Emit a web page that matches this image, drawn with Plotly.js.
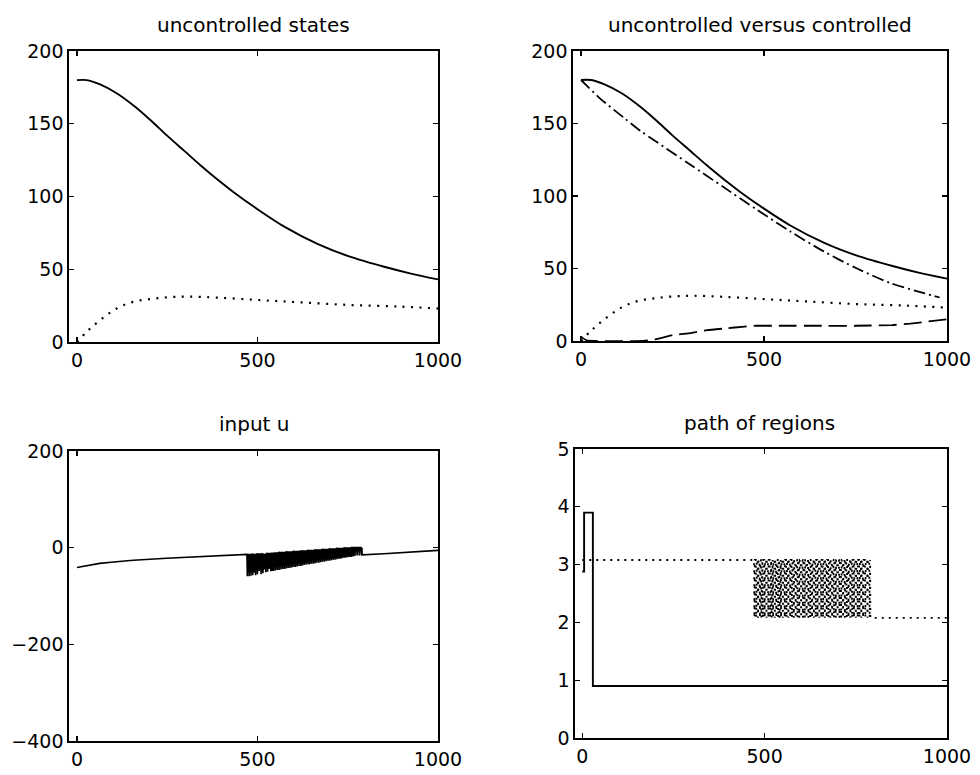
<!DOCTYPE html>
<html>
<head>
<meta charset="utf-8">
<script src="https://cdn.plot.ly/plotly-3.0.1.min.js"></script>
<style>html,body{margin:0;padding:0;background:#fff;}#chart{width:980px;height:775px;}</style>
</head>
<body>
<div id="chart"></div>
<script>
// ---- panel titles ----
const panelTitles = ["uncontrolled states", "uncontrolled versus controlled", "input u", "path of regions"];

// ---- uncontrolled states (top panels) ----
const state1X = [0, 27, 64, 110, 162, 208, 249, 299, 342, 390, 434, 500, 573, 666, 758, 851, 925, 1000];
const state1Y = [180, 180, 177, 171, 161.5, 151.5, 142, 131, 121.5, 111.5, 103, 91.3, 79.5, 67.5, 58.5, 51.7, 47, 43];
const state2X = [0, 27, 64, 110, 157, 203, 249, 305, 388, 500, 616, 758, 897, 1000];
const state2Y = [0, 7, 15, 23, 27.7, 29.5, 30.7, 31.2, 30.5, 28.9, 27.3, 25.4, 24.3, 23];

// ---- controlled states (top-right panel) ----
const ctrl1X = [0, 12, 53, 117, 162, 208, 299, 390, 481, 572, 663, 754, 845, 937, 980];
const ctrl1Y = [180, 177, 167, 154, 145, 137, 121.5, 106, 90.5, 75.5, 61.8, 50, 40, 33, 30];
const ctrl2X = [0, 15, 170, 200, 250, 300, 345, 400, 440, 480, 550, 650, 750, 850, 900, 950, 1000];
const ctrl2Y = [3, 0.5, 0, 1, 4, 5.5, 7.5, 8.8, 9.8, 10.5, 10.5, 10.5, 10.5, 11, 12, 13.5, 15];

// ---- input u (bottom-left panel) ----
const uPreX = [0, 26, 63, 109, 156, 248, 341, 433, 468];
const uPreY = [-41, -37, -32.5, -29, -26, -22, -18.5, -16, -14.5];
const uPostX = [790, 850, 900, 950, 1000];
const uPostY = [-15, -12.5, -10.5, -8, -5.5];
// switching instants (chattering) and the two values of u there
const burstX = [472,477,482,487,491,495,500,505,510,515,519,523,528,532,537,541,
  545,550,555,560,565,570,575,580,585,590,595,600,605,610,615,620,625,630,635,640,
  645,650,655,660,665,670,675,680,685,690,695,700,705,710,715,720,725,730,735,740,
  745,750,755,760,765,770,776,782,788];
const burstHi = [-14,-14,-14,-13.5,-13.5,-13.5,-13,-13,-13,-12.5,-12.5,-12.5,-12,-12,-12,-11.5,
  -11,-11,-11,-10,-10,-10,-10,-9,-9,-9,-9,-8,-8,-8,-8,-7,-7,-7,-7,-6,
  -6,-6,-6,-5,-5,-5,-5,-4,-4,-4,-4,-3,-3,-3,-3,-2,-2,-2,-2,-1,
  -1,-1,-1,0,0,0,0,0,0];
const burstLo = [-59,-59,-58,-57,-52,-57,-55,-48,-55,-53,-45,-51,-50,-44,-49,-48,
  -48,-47,-46,-46,-45,-44,-44,-43,-42,-42,-41,-40,-40,-39,-38,-38,-37,-36,-35,-35,
  -34,-33,-33,-32,-31,-31,-30,-29,-29,-28,-27,-27,-26,-25,-25,-24,-23,-23,-22,-21,
  -21,-20,-19,-19,-18,-17,-16,-16,-16];

// ---- path of regions (bottom-right panel) ----
const regionSolidX = [0, 5, 29, 1000];
const regionSolidY = [2.88, 3.9, 0.9, 0.9];
const regionDotLevels = [3.08, 2.08];   // region before / at switching, and after
const regionDotEnd = [790, 1000];

// ---------------- build traces ----------------
const halfW = 1.2;
const ux = uPreX.slice(), uy = uPreY.slice();
burstX.forEach((x, i) => {
  ux.push(x - halfW, x, x + halfW);
  uy.push(burstHi[i], burstLo[i], burstHi[i]);
});
uPostX.forEach((x, i) => { ux.push(x); uy.push(uPostY[i]); });

const rx = [0], ry = [regionDotLevels[0]];
burstX.forEach(x => {
  rx.push(x - halfW, x, x + halfW);
  ry.push(regionDotLevels[0], regionDotLevels[1], regionDotLevels[0]);
});
regionDotEnd.forEach(x => { rx.push(x); ry.push(regionDotLevels[1]); });

const K = '#000';
const solid = {color: K, width: 1.9, shape: 'spline', smoothing: 0.8};
const dotted = {color: K, width: 2.2, dash: '2px,6.5px', shape: 'spline'};

const data = [
  {x: state1X, y: state1Y, xaxis: 'x', yaxis: 'y', mode: 'lines', line: solid},
  {x: state2X, y: state2Y, xaxis: 'x', yaxis: 'y', mode: 'lines', line: dotted},
  {x: state1X, y: state1Y, xaxis: 'x2', yaxis: 'y2', mode: 'lines', line: solid},
  {x: state2X, y: state2Y, xaxis: 'x2', yaxis: 'y2', mode: 'lines', line: dotted},
  {x: ctrl1X, y: ctrl1Y, xaxis: 'x2', yaxis: 'y2', mode: 'lines', line: {color: K, width: 1.8, dash: '12px,4px,2px,4px', shape: 'spline', smoothing: 0.8}},
  {x: ctrl2X, y: ctrl2Y, xaxis: 'x2', yaxis: 'y2', mode: 'lines', line: {color: K, width: 1.8, dash: '18px,7px', shape: 'spline', smoothing: 0.4}},
  {x: ux, y: uy, xaxis: 'x3', yaxis: 'y3', mode: 'lines', line: {color: K, width: 1.6}},
  {x: regionSolidX, y: regionSolidY, xaxis: 'x4', yaxis: 'y4', mode: 'lines', line: {color: K, width: 1.9, shape: 'hv'}},
  {x: rx, y: ry, xaxis: 'x4', yaxis: 'y4', mode: 'lines', line: {color: K, width: 1.8, dash: '2px,5px'}}
];

const F = 'DejaVu Sans, Arial, sans-serif';
function ax(extra) {
  return Object.assign({
    showline: true, linecolor: K, linewidth: 1.7, mirror: 'ticks',
    ticks: 'inside', ticklen: 5, tickwidth: 1.3, tickcolor: K,
    showgrid: false, zeroline: false, fixedrange: true,
    tickfont: {family: F, size: 19, color: '#000'}
  }, extra);
}
const W = 980, H = 775;
const dx = (a, b) => [a / W, b / W];
const dy = (top, bot) => [1 - bot / H, 1 - top / H];

const layout = {
  width: W, height: H, margin: {l: 0, r: 0, t: 0, b: 0},
  paper_bgcolor: '#fff', plot_bgcolor: '#fff', showlegend: false,
  font: {family: F, color: '#000'},
  xaxis:  ax({domain: dx(69, 438),  anchor: 'y',  range: [-22, 1000], tickvals: [0, 500, 1000]}),
  yaxis:  ax({domain: dy(51, 342),  anchor: 'x',  range: [0, 200], tickvals: [0, 50, 100, 150, 200]}),
  xaxis2: ax({domain: dx(573, 947), anchor: 'y2', range: [-22, 1000], tickvals: [0, 500, 1000]}),
  yaxis2: ax({domain: dy(51, 341),  anchor: 'x2', range: [0, 200], tickvals: [0, 50, 100, 150, 200]}),
  xaxis3: ax({domain: dx(69, 438),  anchor: 'y3', range: [-22, 1000], tickvals: [0, 500, 1000]}),
  yaxis3: ax({domain: dy(451, 741), anchor: 'x3', range: [-400, 200], tickvals: [-400, -200, 0, 200]}),
  xaxis4: ax({domain: dx(575, 947), anchor: 'y4', range: [-20, 1000], tickvals: [0, 500, 1000]}),
  yaxis4: ax({domain: dy(449, 738), anchor: 'x4', range: [0, 5], tickvals: [0, 1, 2, 3, 4, 5]}),
  annotations: [
    {text: panelTitles[0], x: 253.5 / W, y: 1 - 25 / H},
    {text: panelTitles[1], x: 759.5 / W, y: 1 - 25 / H},
    {text: panelTitles[2], x: 254 / W,   y: 1 - 424 / H},
    {text: panelTitles[3], x: 759.5 / W, y: 1 - 423 / H}
  ].map(a => Object.assign({xref: 'paper', yref: 'paper', showarrow: false,
      xanchor: 'center', yanchor: 'middle', font: {family: F, size: 20, color: '#000'}}, a))
};

Plotly.newPlot('chart', data, layout, {staticPlot: true, displayModeBar: false});
</script>
</body>
</html>
